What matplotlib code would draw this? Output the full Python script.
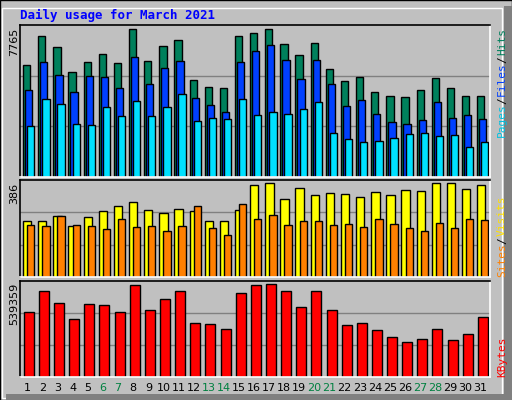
import numpy as np
import matplotlib.pyplot as plt
from matplotlib.patches import Rectangle

days = np.arange(1, 32)
weekend = [6, 7, 13, 14, 20, 21, 27, 28]

# values
hits = np.array([112, 140, 129, 105, 115, 123, 114, 147, 116, 130, 136, 97, 90, 89, 140, 143,
                 147, 132, 122, 133, 108, 96, 100, 85, 81, 80, 87, 99, 89, 81, 81]) * 7765 / 147
files = np.array([87, 115, 102, 85, 101, 100, 89, 120, 93, 109, 116, 79, 72, 65, 115, 126,
                  131, 117, 98, 117, 93, 71, 77, 63, 55, 53, 57, 75, 59, 62, 58]) * 7765 / 147
pages = np.array([51, 78, 73, 53, 52, 70, 61, 76, 61, 70, 83, 56, 59, 58, 78, 62,
                  65, 63, 68, 75, 44, 38, 35, 36, 39, 43, 44, 41, 42, 30, 35]) * 7765 / 147
visits = np.array([165, 165, 180, 150, 177, 192, 207, 219, 195, 189, 198, 192, 165, 165, 195, 270,
                   276, 228, 261, 240, 246, 243, 234, 249, 240, 255, 252, 276, 276, 258, 270]) * 386 / 276
sites = np.array([153, 150, 180, 153, 150, 141, 171, 147, 150, 135, 150, 207, 144, 123, 213, 171,
                  183, 153, 165, 165, 153, 156, 147, 171, 156, 144, 135, 159, 144, 171, 168]) * 386 / 276
kbytes = np.array([189, 252, 216, 171, 213, 210, 189, 270, 195, 228, 252, 159, 156, 141, 246, 270,
                   273, 252, 204, 252, 195, 153, 159, 138, 117, 102, 111, 141, 108, 126, 177]) * 539359 / 273

W, H = 512, 400
BG = "#C0C0C0"
fig = plt.figure(figsize=(W / 100, H / 100), dpi=100, facecolor=BG)
plt.rcParams["font.family"] = "DejaVu Sans Mono"


def px_axes(x0, y0, x1, y1):
    return fig.add_axes([x0 / W, 1 - y1 / H, (x1 - x0) / W, (y1 - y0) / H])


# outer 3d border
fig.add_artist(Rectangle((0, 0), 1, 1, transform=fig.transFigure, fill=False, ec="black", lw=1))
fig.add_artist(Rectangle((2 / W, 2 / H), (W - 12) / W, (H - 10) / H, transform=fig.transFigure,
                         fill=False, ec="white", lw=1))
fig.add_artist(Rectangle(((W - 8) / W, 0), 8 / W, (H - 6) / H, transform=fig.transFigure,
                         color="#808080", lw=0))
fig.add_artist(Rectangle((6 / W, 0), (W - 6) / W, 6 / H, transform=fig.transFigure,
                         color="#808080", lw=0))


def style(ax, top):
    ax.set_facecolor(BG)
    ax.set_xlim(0.45, 31.5)
    ax.set_ylim(0, top * 1.03)
    for y in (top * 1.03 / 3, top * 1.03 * 2 / 3):
        ax.axhline(y, color="#808080", lw=1, zorder=0)
    ax.set_xticks([])
    ax.set_yticks([])
    ax.spines["top"].set_color("black")
    ax.spines["left"].set_color("black")
    ax.spines["right"].set_color("white")
    ax.spines["bottom"].set_color("white")
    for s in ax.spines.values():
        s.set_linewidth(1.2)


kw = dict(edgecolor="black", linewidth=1, align="edge")

ax1 = px_axes(20, 25, 490, 177)
style(ax1, hits.max())
ax1.bar(days - 0.35, hits, 0.48, color="#00805C", **kw)
ax1.bar(days - 0.22, files, 0.48, color="#0040FF", **kw)
ax1.bar(days - 0.08, pages, 0.48, color="#00E0FF", **kw)

ax2 = px_axes(20, 180, 490, 277)
style(ax2, visits.max())
ax2.bar(days - 0.35, visits, 0.55, color="#FFFF00", **kw)
ax2.bar(days - 0.08, sites, 0.48, color="#FF8000", **kw)

ax3 = px_axes(20, 281, 490, 377)
style(ax3, kbytes.max())
ax3.bar(days - 0.3, kbytes, 0.66, color="#FF0000", **kw)

# title and labels
fig.text(20 / W, 1 - 15 / H, "Daily usage for March 2021", color="#0000FF", fontsize=9,
         fontweight="bold", va="center")
for txt, y in (("7765", 28), ("386", 183), ("539359", 283)):
    fig.text(14 / W, 1 - y / H, txt, rotation=90, fontsize=8, va="top", ha="center",
             family="DejaVu Sans")

for d in days:
    fig.text((20 + (d - 0.5) * 15.1) / W, 1 - 388 / H, str(d), fontsize=8, ha="center",
             va="center", family="DejaVu Sans",
             color="#008040" if d in weekend else "black")


def side_label(parts, y_bottom):
    y = y_bottom
    for txt, col in parts:
        fig.text(502 / W, 1 - y / H, txt, rotation=90, color=col, fontsize=8,
                 ha="center", va="bottom")
        y -= len(txt) * 6.2 + 2


side_label([("Pages", "#00C0E0"), ("/", "black"), ("Files", "#0040FF"), ("/", "black"),
            ("Hits", "#00805C")], 137)
side_label([("Sites", "#FF8000"), ("/", "black"), ("Visits", "#FFE000")], 277)
side_label([("KBytes", "#FF0000")], 377)

fig.savefig("out.png", dpi=100, facecolor=BG)
